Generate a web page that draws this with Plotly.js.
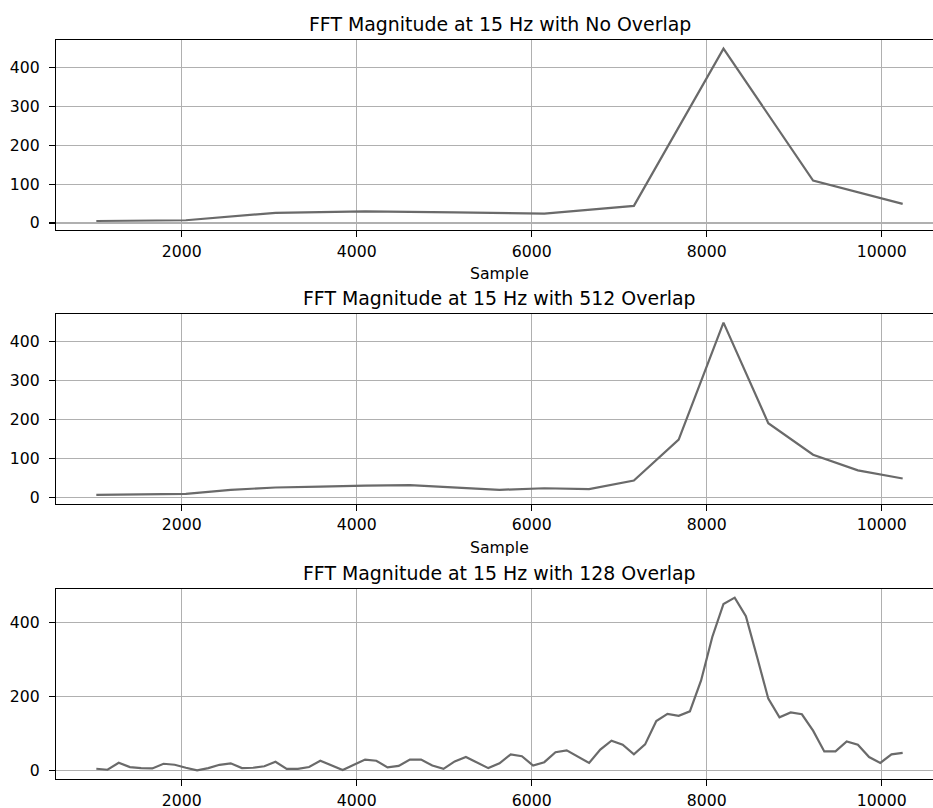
<!DOCTYPE html>
<html>
<head>
<meta charset="utf-8">
<script src="https://cdn.plot.ly/plotly-3.0.1.min.js"></script>
<style>
html, body { margin: 0; padding: 0; background: #fff; overflow: hidden; }
#wrap { width: 933px; height: 808px; overflow: hidden; position: relative; }
#chart { width: 960px; height: 830px; position: absolute; left: 0; top: 0; }
</style>
</head>
<body>
<div id="wrap"><div id="chart"></div></div>
<script>
// ---- Data ----
const titles = [
  "FFT Magnitude at 15 Hz with No Overlap",
  "FFT Magnitude at 15 Hz with 512 Overlap",
  "FFT Magnitude at 15 Hz with 128 Overlap"
];
const xLabel = "Sample";

const samplesNoOverlap = [1024, 2048, 3072, 4096, 5120, 6144, 7168, 8192, 9216, 10240];
const magNoOverlap     = [5, 7, 26, 30, 27, 24, 44, 449, 109, 49];

const samples512 = [1024, 1536, 2048, 2560, 3072, 3584, 4096, 4608, 5120, 5632,
                    6144, 6656, 7168, 7680, 8192, 8704, 9216, 9728, 10240];
const mag512     = [7, 8, 9.5, 20, 26, 28, 31, 32, 26, 20,
                    24, 22, 44, 149, 449, 191, 110, 70, 49];

const samples128 = [1024,1152,1280,1408,1536,1664,1792,1920,
                    2048,2176,2304,2432,2560,2688,2816,2944,
                    3072,3200,3328,3456,3584,3712,3840,3968,
                    4096,4224,4352,4480,4608,4736,4864,4992,
                    5120,5248,5376,5504,5632,5760,5888,6016,
                    6144,6272,6400,6528,6656,6784,6912,7040,
                    7168,7296,7424,7552,7680,7808,7936,8064,
                    8192,8320,8448,8576,8704,8832,8960,9088,
                    9216,9344,9472,9600,9728,9856,9984,10112,
                    10240];
const mag128 = [5.4, 2.7, 21.5, 9.9, 7.2, 6.3, 18.8, 16.1,
                8.1, 1, 7, 16, 20, 7, 8, 12,
                24, 5, 5, 10, 27, 14, 2, 16,
                30, 27, 9, 13, 30, 30, 14, 5,
                25, 37, 22, 7, 20, 44, 39, 14,
                23, 50, 55, 37, 21, 57, 81, 70,
                44, 71, 134, 153, 148, 160, 243, 360,
                449, 466, 416, 306, 194, 144, 157, 152,
                108, 52, 52, 79, 70, 37, 21, 44,
                48];

const yTickStep = [100, 100, 200];

// ---- Helpers ----
function padRange(arr) {
  const mn = Math.min(...arr), mx = Math.max(...arr);
  const p = (mx - mn) * 0.05;
  return [mn - p, mx + p];
}

const allX = samplesNoOverlap.concat(samples512, samples128);
const xr = padRange(allX);

const lineStyle = {color: '#6a6a6a', width: 2.2};
const traces = [
  {x: samplesNoOverlap, y: magNoOverlap, xaxis: 'x', yaxis: 'y'},
  {x: samples512, y: mag512, xaxis: 'x2', yaxis: 'y2'},
  {x: samples128, y: mag128, xaxis: 'x3', yaxis: 'y3'}
].map(t => Object.assign(t, {type: 'scatter', mode: 'lines', line: lineStyle, hoverinfo: 'skip', showlegend: false}));

const font = {family: 'DejaVu Sans', size: 15.7, color: '#000'};
const domains = [[0.7434, 1], [0.3728, 0.6292], [0, 0.2571]];
const yRanges = [padRange(magNoOverlap), padRange(mag512), padRange(mag128)];

function xAxis(i) {
  return {
    domain: [0, 1], range: xr, anchor: i === 0 ? 'y' : 'y' + (i + 1),
    tickmode: 'linear', tick0: 0, dtick: 2000, tickformat: 'd',
    ticks: 'outside', ticklen: 6, tickwidth: 1.1, tickcolor: '#000',
    showline: true, mirror: true, linecolor: '#000', linewidth: 1.1,
    showgrid: true, gridcolor: '#b0b0b0', gridwidth: 1.2,
    zeroline: false, tickfont: font, ticklabelstandoff: 1
  };
}
function yAxis(i) {
  return {
    domain: domains[i], range: yRanges[i], anchor: i === 0 ? 'x' : 'x' + (i + 1),
    tickmode: 'linear', tick0: 0, dtick: yTickStep[i], tickformat: 'd',
    ticks: 'outside', ticklen: 6, tickwidth: 1.1, tickcolor: '#000',
    showline: true, mirror: true, linecolor: '#000', linewidth: 1.1,
    showgrid: true, gridcolor: '#b0b0b0', gridwidth: 1.2,
    zeroline: false, tickfont: font, ticklabelstandoff: 6
  };
}

const annotations = [];
for (let i = 0; i < 3; i++) {
  annotations.push({
    text: titles[i], xref: 'paper', yref: 'paper', x: 0.5, y: domains[i][1],
    xanchor: 'center', yanchor: 'bottom', yshift: 3, showarrow: false,
    font: {family: 'DejaVu Sans', size: 18.9, color: '#000'}
  });
  if (i < 2) {
    annotations.push({
      text: xLabel, xref: 'paper', yref: 'paper', x: 0.5, y: domains[i][0],
      xanchor: 'center', yanchor: 'top', yshift: -32, showarrow: false,
      font: font
    });
  }
}

const layout = {
  width: 960, height: 830,
  margin: {l: 56, r: 17, t: 40, b: 51},
  paper_bgcolor: '#fff', plot_bgcolor: '#fff',
  xaxis: xAxis(0), xaxis2: xAxis(1), xaxis3: xAxis(2),
  yaxis: yAxis(0), yaxis2: yAxis(1), yaxis3: yAxis(2),
  annotations: annotations,
  showlegend: false
};

Plotly.newPlot('chart', traces, layout, {displayModeBar: false, staticPlot: true});
</script>
</body>
</html>
